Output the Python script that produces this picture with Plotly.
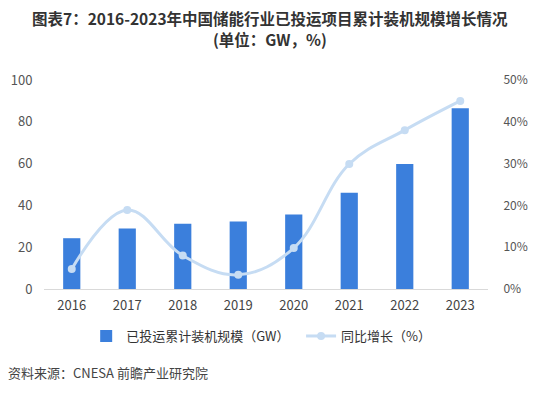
import plotly.graph_objects as go

years = ["2016", "2017", "2018", "2019", "2020", "2021", "2022", "2023"]
capacity_gw = [24.3, 28.9, 31.2, 32.3, 35.6, 46.1, 59.8, 86.5]
growth_pct = [4.8, 18.9, 8.0, 3.4, 9.8, 29.9, 38.0, 45.0]

left_ticks = [0, 20, 40, 60, 80, 100]
right_ticks = [0, 10, 20, 30, 40, 50]
right_tick_labels = ["0%", "10%", "20%", "30%", "40%", "50%"]

font_family = "Noto Sans CJK SC, Noto Sans, sans-serif"

fig = go.Figure()
fig.add_trace(go.Bar(
    x=years, y=capacity_gw, name="已投运累计装机规模（GW）", legend="legend",
    marker=dict(color="#3b7fdc", line=dict(width=0)), width=0.31,
))
fig.add_trace(go.Scatter(
    x=years, y=growth_pct, name="同比增长（%）", yaxis="y2", legend="legend2",
    mode="lines+markers", line=dict(color="#c6dcf3", width=3, shape="spline", smoothing=1.1),
    marker=dict(color="#c6dcf3", size=8),
))

fig.update_layout(
    width=532, height=386,
    margin=dict(l=36, r=52, t=72, b=105),
    paper_bgcolor="white", plot_bgcolor="white",
    font=dict(family=font_family, color="#444", size=12),
    showlegend=True,
    legend=dict(orientation="h", x=0.095, xanchor="left", y=-0.225, yanchor="middle",
                font=dict(size=13, color="#333")),
    legend2=dict(orientation="h", x=0.579, xanchor="left", y=-0.225, yanchor="middle",
                 font=dict(size=13, color="#333")),
    xaxis=dict(type="category", range=[-0.5, 7.5], showline=True, linecolor="#d9d9d9",
               linewidth=1, ticks="outside", ticklen=4, tickcolor="white", showgrid=False,
               tickfont=dict(size=13, color="#444"), zeroline=False, automargin=False),
    yaxis=dict(range=[0, 100], tickvals=left_ticks, showgrid=False, zeroline=False,
               showline=False, tickfont=dict(size=13, color="#555"), ticks="outside",
               ticklen=8, tickcolor="white", automargin=False),
    yaxis2=dict(range=[0, 50], tickvals=right_ticks, ticktext=right_tick_labels,
                overlaying="y", side="right", showgrid=False, zeroline=False,
                showline=False, tickfont=dict(size=12, color="#555"), ticks="outside",
                ticklen=12, tickcolor="white", automargin=False),
    bargap=0.69,
)

fig.add_annotation(text="<b>图表7：2016-2023年中国储能行业已投运项目累计装机规模增长情况</b>",
                   x=0.509, xref="paper", xanchor="center", y=1.297, yref="paper", yanchor="middle",
                   showarrow=False, font=dict(size=15.5, color="#333"))
fig.add_annotation(text="<b>(单位：GW，%)</b>",
                   x=0.509, xref="paper", xanchor="center", y=1.196, yref="paper", yanchor="middle",
                   showarrow=False, font=dict(size=15.5, color="#333"))
fig.add_annotation(text="资料来源：CNESA 前瞻产业研究院", xref="paper", yref="paper",
                   x=-0.085, xanchor="left", y=-0.40, yanchor="middle", showarrow=False,
                   font=dict(size=13, color="#444"))

fig.write_html("out.html")
